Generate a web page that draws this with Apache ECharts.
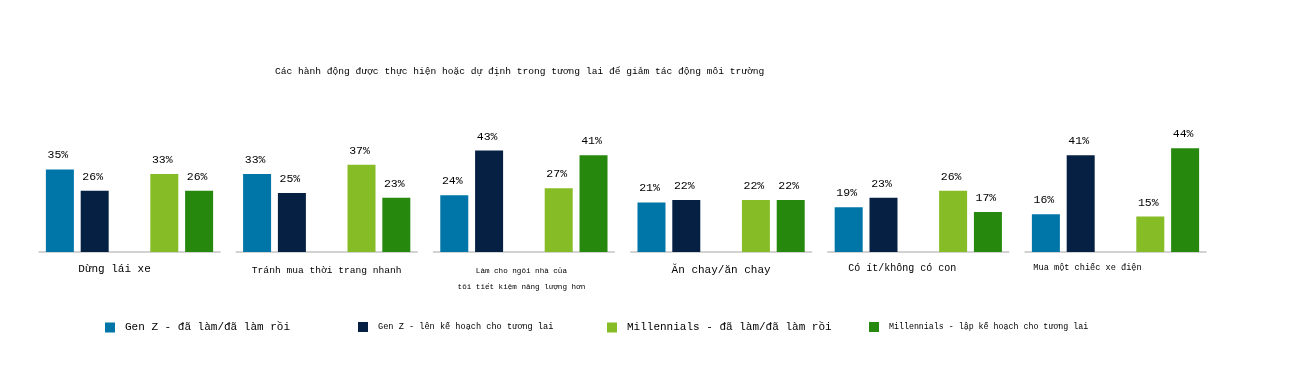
<!DOCTYPE html>
<html>
<head>
<meta charset="utf-8">
<script src="https://cdn.jsdelivr.net/npm/echarts@6/dist/echarts.min.js"></script>
<style>html,body{margin:0;padding:0;background:#fff;}#c{width:1305px;height:371px;}</style>
</head>
<body>
<div id="c"></div>
<script>
// ---- data ----
const titleText = 'Các hành động được thực hiện hoặc dự định trong tương lai để giảm tác động môi trường';
const categories = [
  'Dừng lái xe',
  'Tránh mua thời trang nhanh',
  'Làm cho ngôi nhà của\ntôi tiết kiệm năng lượng hơn',
  'Ăn chay/ăn chay',
  'Có ít/không có con',
  'Mua một chiếc xe điện'
];
const seriesNames = [
  'Gen Z - đã làm/đã làm rồi',
  'Gen Z - lên kế hoạch cho tương lai',
  'Millennials - đã làm/đã làm rồi',
  'Millennials - lập kế hoạch cho tương lai'
];
const genZDone = [35, 33, 24, 21, 19, 16];
const genZPlan = [26, 25, 43, 22, 23, 41];
const millDone = [33, 37, 27, 22, 26, 15];
const millPlan = [26, 23, 41, 22, 17, 44];

// ---- styling ----
const FONT = '"Liberation Mono", "DejaVu Sans Mono", monospace';
const TXT = '#000';
const colors = ['#0076A8', '#062043', '#86BC25', '#26890D'];
const seriesValues = [genZDone, genZPlan, millDone, millPlan];
const slotPos = [0, 1, 3, 4];
const catFont = [11, 9.6, 7.6, 11, 10, 8.6];
const catShift = [-15, 0, -2.5, 0, -16, -28];
const catGap = [11.5, 13, 10.5, 12.5, 11, 11.5];
const legendFont = [11, 8.6, 11, 8.3];
const legendLeft = [105, 358, 607, 869];

const grids = [], xAxes = [], yAxes = [], series = [];
categories.forEach((cat, g) => {
  grids.push({ left: 39 + 197.2 * g, width: 181, top: 134, bottom: 119 });
  const sh = catShift[g];
  xAxes.push({
    gridIndex: g, type: 'value', min: -0.6, max: 4.6,
    axisLine: { show: true, lineStyle: { color: '#c4c4c4', width: 1.5 } },
    axisTick: { show: false }, axisLabel: { show: false }, splitLine: { show: false },
    name: cat, nameLocation: 'middle', nameGap: catGap[g],
    nameTextStyle: {
      fontFamily: FONT, fontSize: catFont[g], color: TXT,
      lineHeight: g === 2 ? 16 : undefined,
      padding: [0, sh < 0 ? -2 * sh : 0, 0, sh > 0 ? 2 * sh : 0]
    }
  });
  yAxes.push({ gridIndex: g, type: 'value', min: 0, max: 50, show: false });
  seriesNames.forEach((nm, s) => {
    series.push({
      type: 'bar', name: nm, xAxisIndex: g, yAxisIndex: g,
      barWidth: 28, barGap: '-100%',
      itemStyle: { color: colors[s] },
      label: {
        show: true, position: 'top', distance: 8, offset: [-2, 0],
        fontFamily: FONT, fontSize: 11.5, color: TXT,
        formatter: p => p.value[1] + '%'
      },
      data: [[slotPos[s], seriesValues[s][g]]]
    });
  });
});

const legends = seriesNames.map((nm, i) => ({
  left: legendLeft[i], top: 322, padding: 0,
  itemWidth: 10, itemHeight: 10, icon: 'rect',
  data: [{ name: nm, itemStyle: { color: colors[i] } }],
  textStyle: { fontFamily: FONT, fontSize: legendFont[i], color: TXT, padding: [0, 0, 0, 5] },
  selectedMode: false
}));

const chart = echarts.init(document.getElementById('c'), null, { renderer: 'canvas' });
chart.setOption({
  animation: false,
  backgroundColor: '#fff',
  color: colors,
  title: {
    text: titleText, left: 275, top: 66, padding: 0,
    textStyle: { fontFamily: FONT, fontSize: 9.6, fontWeight: 'normal', color: TXT }
  },
  legend: legends,
  grid: grids, xAxis: xAxes, yAxis: yAxes, series: series
});
</script>
</body>
</html>
